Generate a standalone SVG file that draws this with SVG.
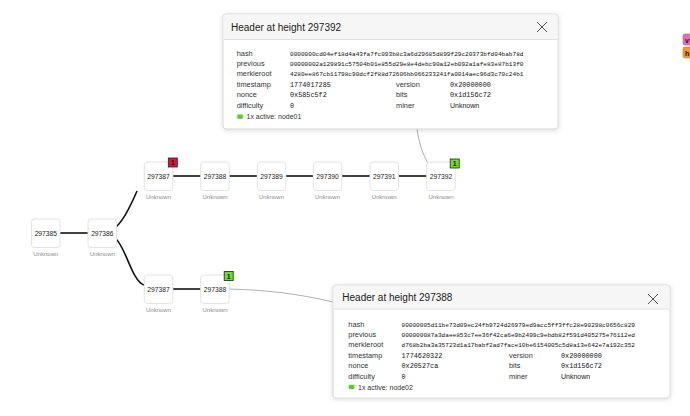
<svg xmlns="http://www.w3.org/2000/svg" width="690" height="416" viewBox="0 0 690 416">
<defs>
<filter id="sh" x="-10%" y="-10%" width="120%" height="130%">
<feDropShadow dx="0" dy="1" stdDeviation="2.5" flood-color="#000" flood-opacity="0.14"/>
</filter>
<clipPath id="cp1"><rect x="223" y="14" width="335" height="115" rx="3"/></clipPath>
<clipPath id="cp2"><rect x="333" y="285" width="337" height="113" rx="3"/></clipPath>
</defs>
<style>
.box{fill:#fff;stroke:#e2e2e2;stroke-width:1}
.nt{font-family:"Liberation Sans",Arial,sans-serif;font-size:6.7px;fill:#222;text-anchor:middle;font-weight:500}
.nu{font-family:"Liberation Sans",Arial,sans-serif;font-size:6px;fill:#8a8a8a;text-anchor:middle}
.edge{fill:none;stroke:#111;stroke-width:1.6}
.thin{fill:none;stroke:#9a9a9a;stroke-width:0.8}
.badge{stroke:#222;stroke-width:0.8}
.bt{font-family:"Liberation Sans",Arial,sans-serif;font-size:7px;font-weight:bold;fill:#111;text-anchor:middle}
.pop{fill:#fff;stroke:#d6d6d6;stroke-width:1}
.hdr{fill:#f6f6f6}
.hl{stroke:#e0e0e0;stroke-width:1}
.title{font-family:"Liberation Sans",Arial,sans-serif;font-size:10px;fill:#222}
.x{stroke:#555;stroke-width:1}
.lb{font-family:"Liberation Sans",Arial,sans-serif;font-size:7.4px;fill:#333}
.hv{font-family:"Liberation Mono","DejaVu Sans Mono",monospace;font-size:6.08px;fill:#111}
.mv{font-family:"Liberation Mono","DejaVu Sans Mono",monospace;font-size:6.8px;fill:#111}
.sv{font-family:"Liberation Sans",Arial,sans-serif;font-size:7px;fill:#222}
.act{font-family:"Liberation Sans",Arial,sans-serif;font-size:7px;fill:#333}
</style>
<rect width="690" height="416" fill="#fff"/>

<g id="connectors">
<path class="edge" d="M60,233 L88,233"/>
<path class="edge" d="M116,227 C124,220 131,205 137,191"/>
<path class="edge" d="M116,239 C126,248 132,281 144,285"/>
<path class="edge" d="M173,176 L201,176"/>
<path class="edge" d="M229,176 L257,176"/>
<path class="edge" d="M286,176 L313,176"/>
<path class="edge" d="M342,176 L370,176"/>
<path class="edge" d="M398,176 L427,176"/>
<path class="edge" d="M173,289 L201,289"/>
<path class="thin" d="M417,129 C420,150 427,166 438,175"/>
<path class="thin" d="M220,289 C262,289 300,294 333,302"/>
</g>

<g id="n297385"><rect class="box" x="31.5" y="219" width="28.5" height="28.5" rx="3"/><text class="nt" x="45.8" y="235.5">297385</text><text class="nu" x="45.8" y="256">Unknown</text></g>
<g id="n297386"><rect class="box" x="88" y="219" width="28.5" height="28.5" rx="3"/><text class="nt" x="102.3" y="235.5">297386</text><text class="nu" x="102.3" y="256">Unknown</text></g>

<g id="n297387a"><rect class="box" x="144.3" y="162" width="28.5" height="28.5" rx="3"/><text class="nt" x="158.5" y="178.5">297387</text><text class="nu" x="158.5" y="199">Unknown</text>
<rect class="badge" x="168.3" y="158" width="9" height="9" fill="#d6143e"/><text class="bt" x="172.8" y="165.2">1</text></g>
<g id="n297388a"><rect class="box" x="200.7" y="162" width="28.5" height="28.5" rx="3"/><text class="nt" x="215" y="178.5">297388</text><text class="nu" x="215" y="199">Unknown</text></g>
<g id="n297389"><rect class="box" x="257.3" y="162" width="28.5" height="28.5" rx="3"/><text class="nt" x="271.5" y="178.5">297389</text><text class="nu" x="271.5" y="199">Unknown</text></g>
<g id="n297390"><rect class="box" x="313.3" y="162" width="28.5" height="28.5" rx="3"/><text class="nt" x="327.5" y="178.5">297390</text><text class="nu" x="327.5" y="199">Unknown</text></g>
<g id="n297391"><rect class="box" x="370" y="162" width="28.5" height="28.5" rx="3"/><text class="nt" x="384.2" y="178.5">297391</text><text class="nu" x="384.2" y="199">Unknown</text></g>
<g id="n297392"><rect class="box" x="426.7" y="162" width="28.5" height="28.5" rx="3"/><text class="nt" x="441" y="178.5">297392</text><text class="nu" x="441" y="199">Unknown</text>
<rect class="badge" x="450.2" y="159" width="9" height="9" fill="#6ee01a"/><text class="bt" x="454.7" y="166.2">1</text></g>

<g id="n297387b"><rect class="box" x="144.3" y="275" width="28.5" height="28.5" rx="3"/><text class="nt" x="158.5" y="291.5">297387</text><text class="nu" x="158.5" y="312">Unknown</text></g>
<g id="n297388b"><rect class="box" x="200.7" y="275" width="28.5" height="28.5" rx="3"/><text class="nt" x="215" y="291.5">297388</text><text class="nu" x="215" y="312">Unknown</text>
<rect class="badge" x="224.2" y="271.5" width="9" height="9" fill="#6ee01a"/><text class="bt" x="228.7" y="278.7">1</text></g>

<g id="popup297392">
<rect class="pop" x="223" y="14" width="335" height="115" rx="3" filter="url(#sh)"/>
<rect class="hdr" x="223.5" y="14.5" width="334" height="25" clip-path="url(#cp1)"/>
<line class="hl" x1="223.5" y1="39.5" x2="557.5" y2="39.5"/>
<text class="title" x="231" y="30.5">Header at height 297392</text>
<line class="x" x1="537" y1="22" x2="547" y2="32"/><line class="x" x1="547" y1="22" x2="537" y2="32"/>
<text class="lb" x="236.7" y="56">hash</text><text class="hv" x="290" y="55.5">0000000cd04ef18d4a43fa7fc093b8c3a6d29685d899f29c20373bfd04bab78d</text>
<text class="lb" x="236.7" y="66">previous</text><text class="hv" x="290" y="65.5">00000002a129891c57504b01e855d29e8e4debc90a12eb092a1afe83e87b13f0</text>
<text class="lb" x="236.7" y="76">merkleroot</text><text class="hv" x="290" y="75.5">4280ee867cb11798c90dcf2f88d72606bb066233241fa0014aec96d3c70c24b1</text>
<text class="lb" x="236.7" y="86.7">timestamp</text><text class="mv" x="290" y="86.5">1774017285</text>
<text class="lb" x="396" y="86.7">version</text><text class="mv" x="450" y="86.5">0x20000000</text>
<text class="lb" x="236.7" y="97">nonce</text><text class="mv" x="290" y="96.8">0x585c5f2</text>
<text class="lb" x="396" y="97">bits</text><text class="mv" x="450" y="96.8">0x1d156c72</text>
<text class="lb" x="236.7" y="107.7">difficulty</text><text class="mv" x="290" y="107.5">0</text>
<text class="lb" x="396" y="107.7">miner</text><text class="sv" x="450" y="107.5">Unknown</text>
<rect x="237.3" y="114.5" width="5.5" height="4.3" fill="#5ccf1c"/><text class="act" x="246.5" y="119">1x active: node01</text>
</g>

<g id="popup297388">
<rect class="pop" x="333" y="285" width="337" height="113" rx="3" filter="url(#sh)"/>
<rect class="hdr" x="333.5" y="285.5" width="336" height="23.5" clip-path="url(#cp2)"/>
<line class="hl" x1="333.5" y1="309" x2="669.5" y2="309"/>
<text class="title" x="342.3" y="300.5">Header at height 297388</text>
<line class="x" x1="648" y1="294" x2="658" y2="304"/><line class="x" x1="658" y1="294" x2="648" y2="304"/>
<text class="lb" x="348.3" y="327">hash</text><text class="hv" x="401.5" y="326.5">00000005d11be73d09ec24fb9724d26979ed9acc5ff3ffc28e90298c0656c829</text>
<text class="lb" x="348.3" y="337.3">previous</text><text class="hv" x="401.5" y="336.8">000000087a3daee853c7ee36f42ca6e9b2499c9ebdb82f591d405275e76112ed</text>
<text class="lb" x="348.3" y="347.3">merkleroot</text><text class="hv" x="401.5" y="346.8">d768b2ba3a35723d1a17babf2ad7face10be6154005c5d8a13e642e7a192c352</text>
<text class="lb" x="348.3" y="358">timestamp</text><text class="mv" x="401.5" y="357.8">1774620322</text>
<text class="lb" x="509" y="358">version</text><text class="mv" x="561" y="357.8">0x20000000</text>
<text class="lb" x="348.3" y="368.4">nonce</text><text class="mv" x="401.5" y="368.2">0x20527ca</text>
<text class="lb" x="509" y="368.4">bits</text><text class="mv" x="561" y="368.2">0x1d156c72</text>
<text class="lb" x="348.3" y="379">difficulty</text><text class="mv" x="401.5" y="378.8">0</text>
<text class="lb" x="509" y="379">miner</text><text class="sv" x="561" y="378.8">Unknown</text>
<rect x="348.8" y="384.8" width="5.5" height="4.3" fill="#5ccf1c"/><text class="act" x="358" y="389.5">1x active: node02</text>
</g>

<g id="edge-badges">
<rect x="683" y="34" width="10" height="11" rx="2" fill="#e96bbd" stroke="#c9509d" stroke-width="0.6"/>
<text class="bt" x="685" y="42.5" style="text-anchor:start">v</text>
<rect x="683" y="47" width="10" height="11" rx="2" fill="#f59a23" stroke="#d67e10" stroke-width="0.6"/>
<text class="bt" x="685" y="55.5" style="text-anchor:start">h</text>
</g>
</svg>
